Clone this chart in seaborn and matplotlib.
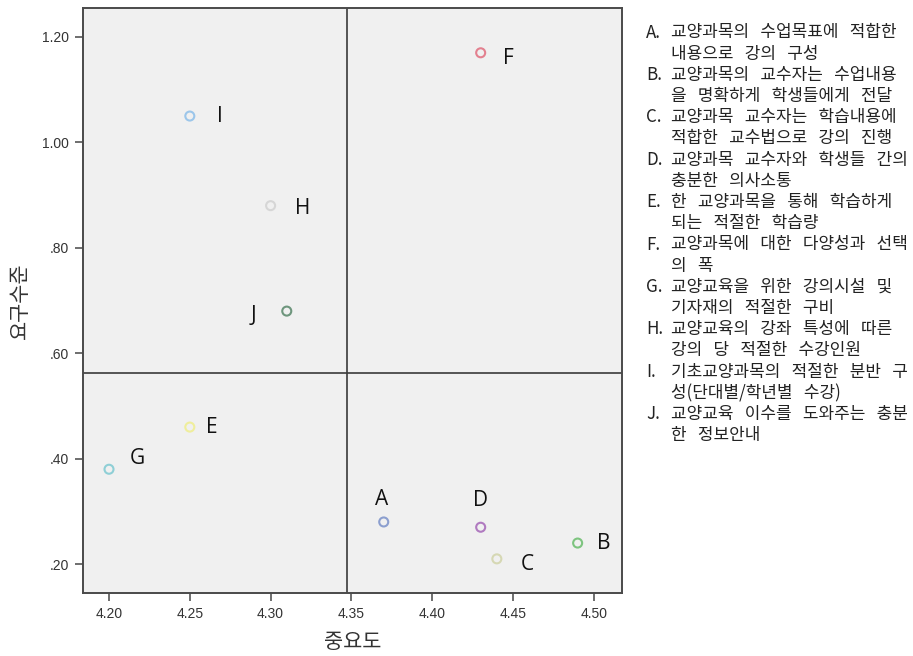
import matplotlib
matplotlib.use("Agg")
import matplotlib.pyplot as plt
import seaborn as sns
import pandas as pd
import numpy as np

labels = ["A", "B", "C", "D", "E", "F", "G", "H", "I", "J"]
importance = [4.37, 4.49, 4.44, 4.43, 4.25, 4.43, 4.20, 4.30, 4.25, 4.31]
demand = [0.28, 0.24, 0.21, 0.27, 0.46, 1.17, 0.38, 0.88, 1.05, 0.68]
colors = ["#8c9fcf", "#7dc47f", "#d6d8b4", "#b07ac0", "#efee9c",
          "#e3808f", "#8fcfd6", "#d6d6d6", "#9cc6ea", "#6e967d"]
x_ticks = [4.20, 4.25, 4.30, 4.35, 4.40, 4.45, 4.50]
y_ticks = [0.20, 0.40, 0.60, 0.80, 1.00, 1.20]
y_tick_labels = [".20", ".40", ".60", ".80", "1.00", "1.20"]
legend_items = [
    ("A.", "교양과목의 수업목표에 적합한", "내용으로 강의 구성"),
    ("B.", "교양과목의 교수자는 수업내용", "을 명확하게 학생들에게 전달"),
    ("C.", "교양과목 교수자는 학습내용에", "적합한 교수법으로 강의 진행"),
    ("D.", "교양과목 교수자와 학생들 간의", "충분한 의사소통"),
    ("E.", "한 교양과목을 통해 학습하게", "되는 적절한 학습량"),
    ("F.", "교양과목에 대한 다양성과 선택", "의 폭"),
    ("G.", "교양교육을 위한 강의시설 및", "기자재의 적절한 구비"),
    ("H.", "교양교육의 강좌 특성에 따른", "강의 당 적절한 수강인원"),
    ("I.", "기초교양과목의 적절한 분반 구", "성(단대별/학년별 수강)"),
    ("J.", "교양교육 이수를 도와주는 충분", "한 정보안내"),
]
label_offsets = {"A": (-2, 22), "B": (26, 0), "C": (30, -6), "D": (0, 27),
                 "E": (22, 0), "F": (28, -6), "G": (28, 11), "H": (32, -3),
                 "I": (30, 0), "J": (-33, -4)}

sns.set_style("white")
plt.rcParams["font.family"] = ["Noto Sans CJK KR", "DejaVu Sans"]

df = pd.DataFrame({"label": labels, "x": importance, "y": demand})

fig = plt.figure(figsize=(9.13, 6.56), dpi=100)
ax = fig.add_axes([0.0909, 0.096, 0.681 - 0.0909, 0.988 - 0.096])
ax.set_facecolor("#f0f0f0")

sns.scatterplot(data=df, x="x", y="y", hue="label",
                palette=dict(zip(labels, colors)), s=42, linewidth=1.5,
                legend=False, ax=ax, zorder=3)
coll = ax.collections[0]
fcs = coll.get_facecolors()
coll.set_edgecolors(fcs)
coll.set_facecolors("none")

for lab, xv, yv in zip(labels, importance, demand):
    dx, dy = label_offsets[lab]
    ax.annotate(lab, (xv, yv), xytext=(dx, dy), textcoords="offset pixels",
                ha="center", va="center", fontsize=15, color="#111111",
                family=["Open Sans", "DejaVu Sans"])

ax.axvline(np.mean(importance), color="#3a3a3a", lw=1.2, zorder=2)
ax.axhline(np.mean(demand), color="#3a3a3a", lw=1.2, zorder=2)

ax.set_xlim(4.1839, 4.5173)
ax.set_ylim(0.1452, 1.2552)
ax.set_xticks(x_ticks)
ax.set_xticklabels([f"{v:.2f}" for v in x_ticks])
ax.set_yticks(y_ticks)
ax.set_yticklabels(y_tick_labels)
for t in ax.get_xticklabels() + ax.get_yticklabels():
    t.set_family(["Liberation Sans", "DejaVu Sans"])
    t.set_fontsize(10)
    t.set_color("#333333")
ax.tick_params(axis="both", which="both", direction="out", length=6,
               width=1.2, color="#555555", bottom=True, left=True, pad=4)
for sp in ax.spines.values():
    sp.set_color("#4a4a4a")
    sp.set_linewidth(1.4)

ax.set_xlabel("중요도", fontsize=15, color="#333333", labelpad=7)
ax.set_ylabel("요구수준", fontsize=15, color="#333333", labelpad=8)

# Side description text
y0 = 656 - 32.5
step = 21.2
fs = 12.2
sp_ = "   "
for i, (lab, l1, l2) in enumerate(legend_items):
    ya = (y0 - (2 * i) * step) / 656
    yb = (y0 - (2 * i + 1) * step) / 656
    fig.text(646 / 913, ya, lab, fontsize=fs, va="center", ha="left", color="#222222")
    fig.text(671 / 913, ya, l1.replace(" ", sp_), fontsize=fs, va="center",
             ha="left", color="#222222")
    fig.text(671 / 913, yb, l2.replace(" ", sp_), fontsize=fs, va="center",
             ha="left", color="#222222")

fig.savefig("out.png", dpi=100, facecolor="white")
